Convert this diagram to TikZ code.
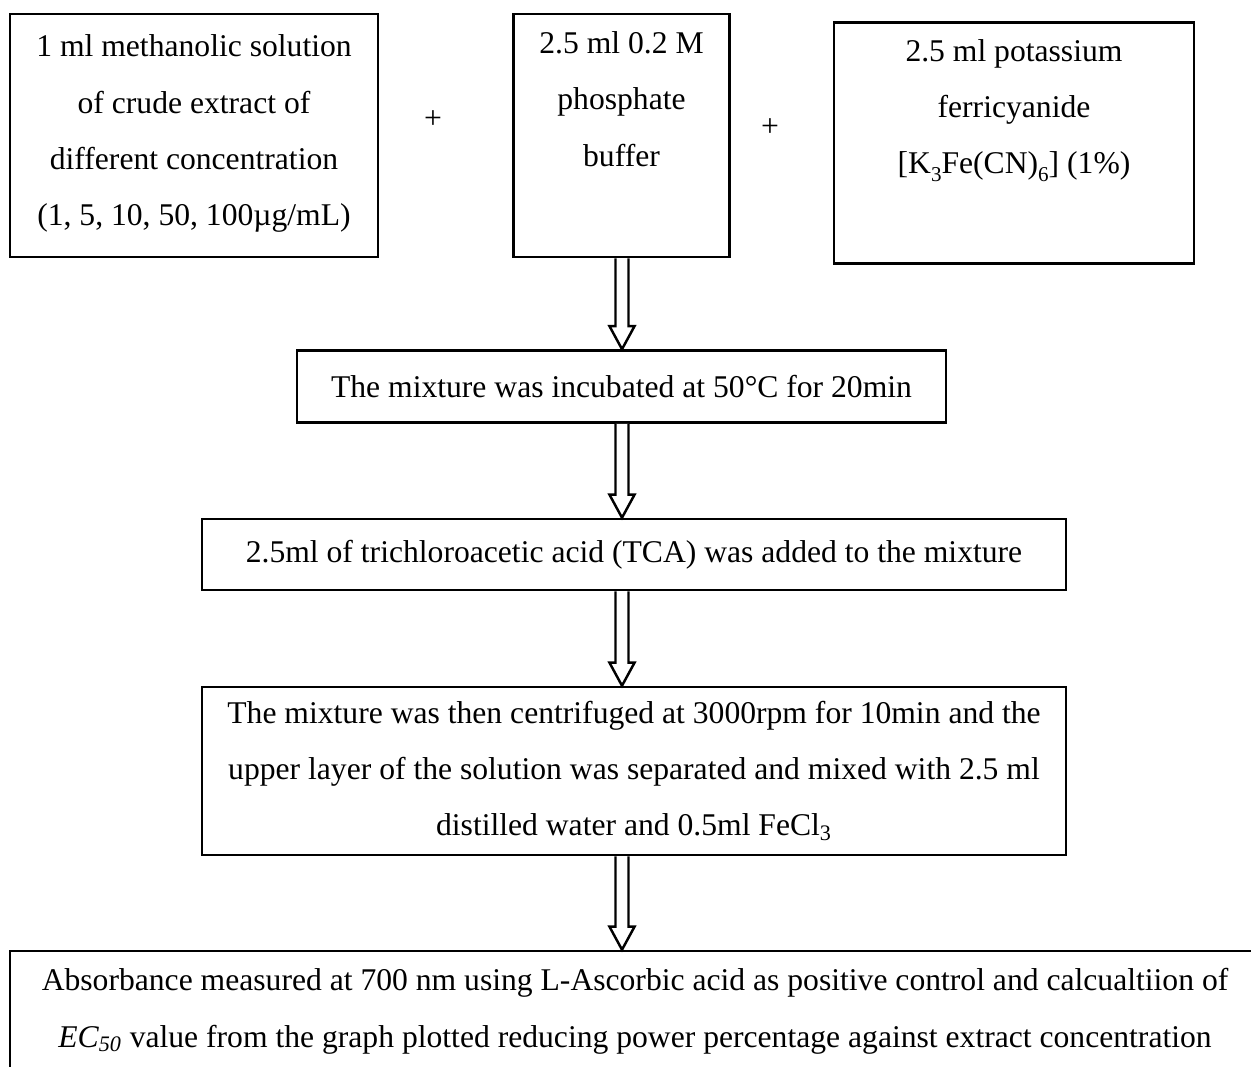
\documentclass[tikz,border=0pt]{standalone}
\usepackage{fontspec}
\setmainfont{Liberation Serif}
\usepackage{tikz}
\usetikzlibrary{
  calc,
  positioning
}
\newcommand{\lowsub}[1]{\raisebox{-0.55ex}{\fontsize{12}{12}\selectfont #1}}
\tikzset{
  flow/.style={ font=\fontsize{18}{32}\selectfont },
  stepbox/.style={
    draw=black,
    line width=1.5pt,
    align=center,
    inner sep=4pt
  },
  plus/.style={ inner sep=0pt },
  hollow/.style={
    draw=black,
    line width=1.4pt,
    fill=white,
    line join=miter
  }
}
\newcommand{\blockarrow}[2]{%
  \draw[hollow] ($(#1)+(-6.5,0)$) -- ($(#2)+(-6.5,-23)$) -- ($(#2)+(-12.5,-23)$)
    -- (#2) -- ($(#2)+(12.5,-23)$) -- ($(#2)+(6.5,-23)$) -- ($(#1)+(6.5,0)$);
}

\begin{document}
\begin{tikzpicture}[flow, x=0.02cm, y=-0.02cm]
  \clip (0,0) rectangle (1251,1066);
  \coordinate (axis) at (622,0);
  % reagents
  \node[stepbox, minimum width=7.36cm, minimum height=4.86cm] (extract) at (194,135.5) {%
    1 ml methanolic solution\\
    of crude extract of\\
    different concentration\\
    (1, 5, 10, 50, 100µg/mL)\vrule width 0pt depth 6pt%
  };
  \node[plus] (plusA) at (433,120) {+};
  \node[stepbox, minimum width=4.32cm, minimum height=4.86cm] (buffer) at (621.5,135.5) {%
    2.5 ml 0.2 M\\
    phosphate\\
    buffer\\
    \strut\vrule width 0pt depth 7pt%
  };
  \node[plus] (plusB) at (770,128) {+};
  \node[stepbox, minimum width=7.2cm, minimum height=4.82cm] (ferri) at (1014,143) {%
    2.5 ml potassium\\
    ferricyanide\\
    {[K\lowsub{3}Fe(CN)\lowsub{6}] (1\%)}\\
    \strut\vrule width 0pt depth 7pt%
  };
  % steps
  \node[stepbox, minimum width=12.98cm, minimum height=1.44cm] (incub) at (621.5,386.5) {%
    The mixture was incubated at 50°C for 20min%
  };
  \node[stepbox, minimum width=17.28cm, minimum height=1.42cm] (tca) at (634,554.5) {%
    2.5ml of trichloroacetic acid (TCA) was added to the mixture%
  };
  \node[stepbox, minimum width=17.28cm, minimum height=3.36cm] (cent) at (634,771) {%
    The mixture was then centrifuged at 3000rpm for 10min and the\\
    upper layer of the solution was separated and mixed with 2.5 ml\\
    distilled water and 0.5ml FeCl\textsubscript{3}%
  };
  \node[stepbox, minimum width=25cm, minimum height=3.4cm] (absorb) at (635,1036) {%
    Absorbance measured at 700 nm using L-Ascorbic acid as positive control and calcualtiion of\\
    \textit{EC\textsubscript{50}} value from the graph plotted reducing power percentage against extract concentration\\
    ~%
  };
  % arrows
  \blockarrow{buffer.south -| axis}{incub.north -| axis}
  \blockarrow{incub.south -| axis}{tca.north -| axis}
  \blockarrow{tca.south -| axis}{cent.north -| axis}
  \blockarrow{cent.south -| axis}{absorb.north -| axis}
\end{tikzpicture}
\end{document}
